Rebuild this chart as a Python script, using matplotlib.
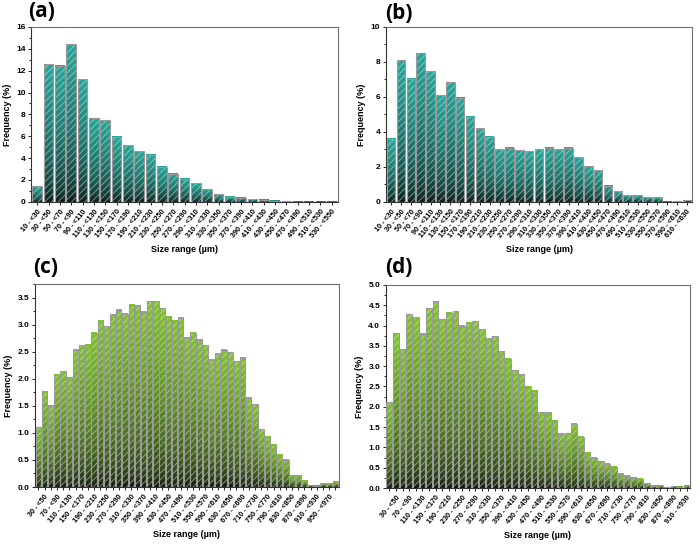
import numpy as np
import matplotlib
matplotlib.use('Agg')
import matplotlib.pyplot as plt
from matplotlib.colors import LinearSegmentedColormap
from matplotlib.ticker import MultipleLocator, FormatStrFormatter

plt.rcParams['font.family'] = ['Liberation Sans', 'DejaVu Sans']
plt.rcParams['hatch.linewidth'] = 0.8

# size bins (lower edges, 20 um wide)
bins_a = list(range(10, 550, 20))
bins_b = list(range(10, 630, 20))
bins_c = list(range(10, 990, 20))
bins_d = list(range(10, 930, 20))

freq_a = [1.43, 12.6, 12.47, 14.45, 11.2, 7.65, 7.47, 5.95, 5.18, 4.63, 4.3, 3.23, 2.59,
          2.13, 1.68, 1.16, 0.7, 0.46, 0.37, 0.24, 0.21, 0.1, 0.05, 0.02, 0.02, 0.02, 0.02]
freq_b = [3.62, 8.1, 7.05, 8.5, 7.47, 6.11, 6.84, 5.96, 4.86, 4.21, 3.73, 3.03, 3.1, 2.97,
          2.88, 3.01, 3.1, 3.01, 3.09, 2.55, 2.04, 1.81, 0.93, 0.61, 0.4, 0.4, 0.27, 0.27,
          0.02, 0.04, 0.08]
freq_c = [1.10, 1.77, 1.50, 2.07, 2.14, 2.03, 2.54, 2.62, 2.63, 2.85, 3.07, 2.97, 3.19,
          3.28, 3.20, 3.37, 3.35, 3.24, 3.43, 3.43, 3.30, 3.15, 3.07, 3.13, 2.76, 2.85,
          2.72, 2.62, 2.35, 2.46, 2.54, 2.49, 2.32, 2.39, 1.65, 1.53, 1.07, 0.93, 0.78,
          0.60, 0.50, 0.22, 0.22, 0.12, 0.03, 0.02, 0.07, 0.07, 0.11]
freq_d = [2.11, 3.81, 3.42, 4.28, 4.2, 3.8, 4.43, 4.58, 4.16, 4.31, 4.35, 4.0, 4.07, 4.1,
          3.91, 3.69, 3.73, 3.37, 3.18, 2.9, 2.8, 2.49, 2.39, 1.87, 1.87, 1.66, 1.33, 1.35,
          1.58, 1.26, 0.87, 0.75, 0.66, 0.6, 0.52, 0.35, 0.3, 0.25, 0.23, 0.12, 0.05, 0.07,
          0.02, 0.04, 0.03, 0.07]

teal = '#2aa59a'
green = '#84c232'


def panel(ax, bins, vals, top_color, ymax, major, every):
    x = np.arange(len(vals))
    cmap = LinearSegmentedColormap.from_list('grad', ['#0c0e0e', top_color])
    grad = (np.linspace(0, 1, 200) ** 0.5).reshape(-1, 1)
    bars = ax.bar(x, vals, width=0.86, color='none', edgecolor='#9a9a9a',
                  linewidth=0.8, zorder=3)
    for b in bars:
        x0, w, h = b.get_x(), b.get_width(), b.get_height()
        ax.imshow(grad, cmap=cmap, vmin=0, vmax=1, extent=[x0, x0 + w, 0, h],
                  origin='lower', aspect='auto', zorder=1)
    # light diagonal stripes over the gradient
    ax.bar(x, vals, width=0.86, color='none', edgecolor=(0.85, 0.95, 0.9, 0.45),
           linewidth=0.01, hatch='/////', zorder=2)

    ax.set_xlim(-0.55, len(vals) - 0.45)
    ax.set_ylim(0, ymax)
    ax.yaxis.set_major_locator(MultipleLocator(major))
    ax.yaxis.set_minor_locator(MultipleLocator(major / 2))
    if major < 1:
        ax.yaxis.set_major_formatter(FormatStrFormatter('%.1f'))

    labels = [f"{lo} - <{lo + 20}" for lo in bins]
    ax.set_xticks(x[every - 1::every])
    ax.set_xticklabels(labels[every - 1::every], rotation=50, ha='right',
                       rotation_mode='anchor', fontsize=5.2, fontweight='bold')
    ax.set_xticks(x, minor=True)
    ax.tick_params(axis='x', which='both', length=2.5, width=0.6, pad=2)
    ax.tick_params(axis='y', which='major', length=2.5, width=0.6, labelsize=6, pad=1.5)
    ax.tick_params(axis='y', which='minor', length=1.5, width=0.6)
    for t in ax.get_yticklabels():
        t.set_fontweight('bold')

    for s in ax.spines.values():
        s.set_color('#707070')
        s.set_linewidth(0.8)
    ax.spines['left'].set_color('#333333')
    ax.spines['bottom'].set_color('#333333')

    ax.set_ylabel('Frequency (%)', fontsize=6.5, fontweight='bold', labelpad=3)
    ax.set_xlabel('Size range (\u00b5m)', fontsize=6.5, fontweight='bold', labelpad=4)


fig = plt.figure(figsize=(7, 5.5), dpi=100)
ax_a = fig.add_axes([0.0443, 0.633, 0.4386, 0.318])
ax_b = fig.add_axes([0.551, 0.633, 0.438, 0.318])
ax_c = fig.add_axes([0.050, 0.1145, 0.434, 0.369])
ax_d = fig.add_axes([0.551, 0.1127, 0.435, 0.3693])

panel(ax_a, bins_a, freq_a, teal, 16, 2, 1)
panel(ax_b, bins_b, freq_b, teal, 10, 2, 1)
panel(ax_c, bins_c, freq_c, green, 3.75, 0.5, 2)
panel(ax_d, bins_d, freq_d, green, 5.0, 0.5, 2)

for lbl, px, py in [('(a)', 0.04, 0.998), ('(b)', 0.55, 0.995),
                    ('(c)', 0.047, 0.532), ('(d)', 0.55, 0.532)]:
    fig.text(px, py, lbl, fontsize=15, fontweight='bold', va='top', ha='left',
             family=['Open Sans', 'DejaVu Sans'])

fig.savefig('out.png', dpi=100)
